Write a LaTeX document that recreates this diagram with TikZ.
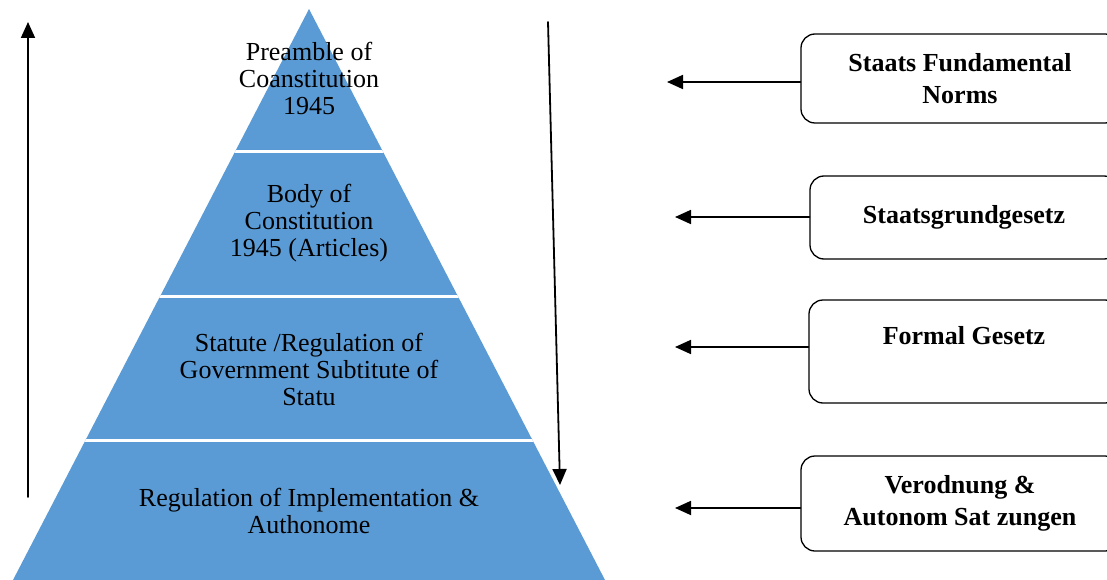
\documentclass[tikz,border=0pt]{standalone}
\usepackage{fontspec}
\setmainfont{Liberation Serif}
\usepackage{xcolor}
\usepackage{tikz}
\usetikzlibrary{arrows.meta, positioning}
\definecolor{pyrblue}{HTML}{5B9BD5}
\tikzstyle{arrow} = [line width=1.8pt,-{Triangle[length=16pt,width=14pt]}]
\tikzstyle{level} = [align=center,font=\fontsize{26}{27}\selectfont]
\tikzstyle{normbox} = [draw,line width=1.3pt,rounded corners=14pt,align=center,font=\fontsize{26}{32}\selectfont\bfseries]

\begin{document}
\begin{tikzpicture}[x=1pt,y=-1pt,line cap=round,line join=round]
                \useasboundingbox (0,0) rectangle (1107,580);
                \clip (0,0) rectangle (1107,580);
                % pyramid
                \coordinate (apex) at (309,9);
                \coordinate (baseL) at (13,580);
                \coordinate (baseR) at (605,580);
                \fill [pyrblue] (apex) -- (baseR) -- (baseL) -- cycle;
                \begin{scope}
                    \clip (apex) -- (baseR) -- (baseL) -- cycle;
                    \foreach \y in {152,296,440}
                        \draw [white,line width=3pt] (0,\y) -- (620,\y);
                \end{scope}
                \node[level] (preamble) at (309,78) {Preamble of\\Coanstitution\\1945};
                \node[level] (body) at (309,223) {Body of\\Constitution\\1945 (Articles)};
                \node[level] (statute) at (309,369) {Statute /Regulation of\\Government Subtitute of\\Statu};
                \node[level] (implement) at (309,511) {Regulation of Implementation \&\\Authonome};
                % up and down arrows
                \coordinate (upbot) at (28,497);
                \coordinate (uptop) at (28,22);
                \coordinate (downtop) at (548,22);
                \coordinate (downbot) at (560,485);
                \draw [arrow] (upbot) -- (uptop);
                \draw [arrow] (downtop) -- (downbot);
                % norm boxes
                \node[normbox,minimum width=318pt,minimum height=89pt] (fundamental) at (960,78.5) {Staats Fundamental\\Norms};
                \node[normbox,minimum width=308pt,minimum height=83pt] (grundgesetz) at (964,217.5) {Staatsgrundgesetz};
                \node[normbox,minimum width=310pt,minimum height=103pt] (formal) at (964,351.5) {Formal Gesetz\\~};
                \node[normbox,minimum width=318pt,minimum height=95pt] (verordnung) at (960,503.5) {Verodnung \&\\Autonom Sat zungen};
                \coordinate (fundamentalend) at (667,82);
                \coordinate (grundgesetzend) at (675,217);
                \coordinate (formalend) at (675,347);
                \coordinate (verordnungend) at (675,508);
                \draw [arrow] (fundamental.west |- fundamentalend) -- (fundamentalend);
                \draw [arrow] (grundgesetz.west |- grundgesetzend) -- (grundgesetzend);
                \draw [arrow] (formal.west |- formalend) -- (formalend);
                \draw [arrow] (verordnung.west |- verordnungend) -- (verordnungend);
\end{tikzpicture}
\end{document}
